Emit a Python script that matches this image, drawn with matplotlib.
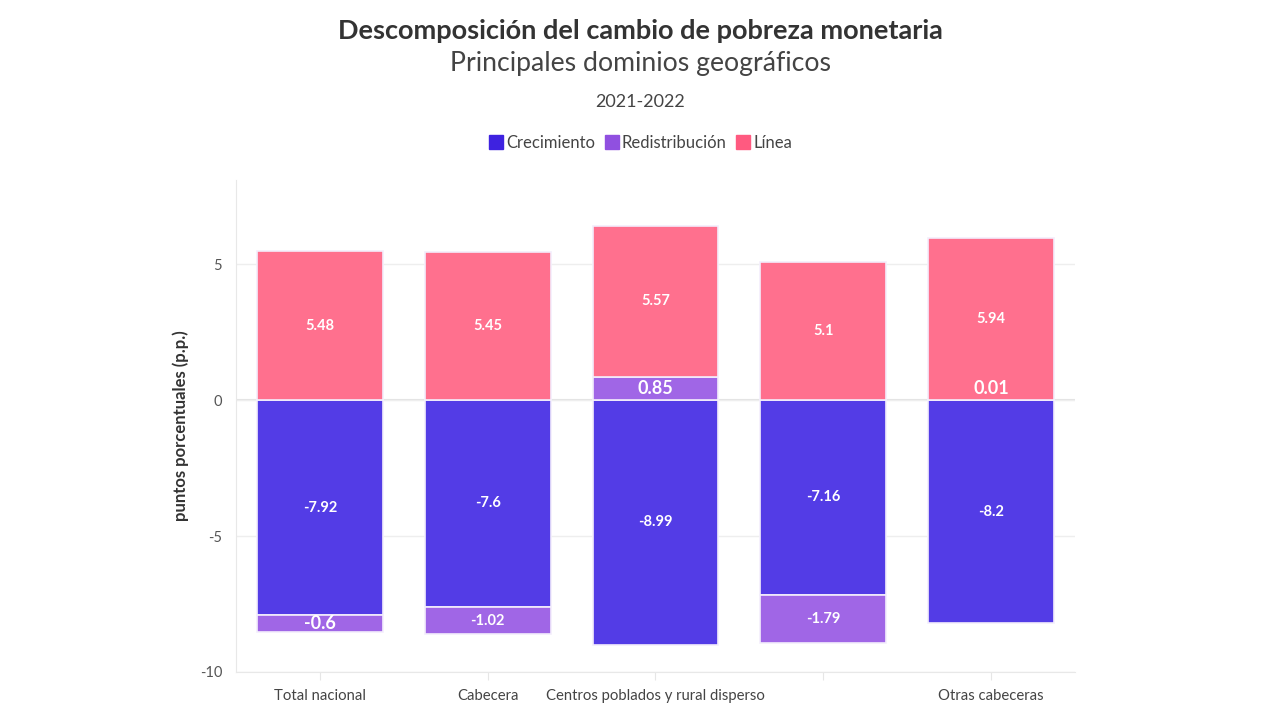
import matplotlib.pyplot as plt
import numpy as np
from matplotlib.lines import Line2D

plt.rcParams["font.family"] = ["Lato", "DejaVu Sans"]

# Data
categories = ["Total nacional", "Cabecera", "Centros poblados y rural disperso", "", "Otras cabeceras"]
series_names = ["Crecimiento", "Redistribución", "Línea"]
crecimiento = [-7.92, -7.6, -8.99, -7.16, -8.2]
redistribucion = [-0.6, -1.02, 0.85, -1.79, 0.01]
linea = [5.48, 5.45, 5.57, 5.1, 5.94]

bar_colors = ["#533ce6", "#a066e6", "#ff708e"]
legend_colors = ["#3e22e0", "#9050e0", "#ff5a80"]

fig = plt.figure(figsize=(12.8, 7.2), dpi=100, facecolor="white")
ax = fig.add_axes([0.1844, 0.0667, 0.6554, 0.6833])

x = np.arange(len(categories))
pos_base = np.zeros(len(categories))
neg_base = np.zeros(len(categories))

for name, vals, color in zip(series_names, [crecimiento, redistribucion, linea], bar_colors):
    vals = np.array(vals)
    bottoms = np.where(vals >= 0, pos_base, neg_base)
    ax.bar(x, vals, bottom=bottoms, width=0.75, color=color,
           edgecolor="#f3eefc", linewidth=1.2, zorder=3)
    for xi, v, b in zip(x, vals, bottoms):
        small = abs(v) < 1.0
        ty = b + v / 2
        if small and v > 0:
            # tiny segments: label sits just above the segment like plotly does
            ty = max(ty, b + 0.42)
        ax.text(xi, ty, f"{v:g}", ha="center", va="center",
                color="white", fontsize=13 if small else 10.5,
                fontweight="bold", zorder=4)
    pos_base = pos_base + np.where(vals >= 0, vals, 0)
    neg_base = neg_base + np.where(vals < 0, vals, 0)

ax.set_xlim(-0.5, 4.5)
ax.set_ylim(-10, 8.1)
ax.set_yticks([-10, -5, 0, 5])
ax.set_yticklabels(["-10", "-5", "0", "5"])
ax.set_xticks(x)
ax.set_xticklabels(categories)
ax.tick_params(axis="y", length=0, pad=10, labelsize=10.5, labelcolor="#555555")
ax.tick_params(axis="x", length=6, color="#e6e6e6", pad=6, labelsize=10.7, labelcolor="#444444")
ax.grid(axis="y", color="#eeeeee", linewidth=1, zorder=0)
ax.axhline(0, color="#e2e2e2", linewidth=1.5, zorder=1)
for side in ["top", "right"]:
    ax.spines[side].set_visible(False)
ax.spines["left"].set_color("#e8e8e8")
ax.spines["bottom"].set_color("#e8e8e8")
ax.set_ylabel("puntos porcentuales (p.p.)", fontsize=12, fontweight="bold",
              color="#333333", labelpad=8)

# Titles
fig.text(0.5, 0.957, "Descomposición del cambio de pobreza monetaria", ha="center", va="center",
         fontsize=19.5, fontweight="bold", color="#333333")
fig.text(0.5, 0.912, "Principales dominios geográficos", ha="center", va="center",
         fontsize=19.2, color="#444444")
fig.text(0.5, 0.858, "2021-2022", ha="center", va="center", fontsize=13, color="#444444")

handles = [Line2D([0], [0], marker="s", linestyle="none", markersize=10,
                  markerfacecolor=c, markeredgecolor=c) for c in legend_colors]
fig.legend(handles, series_names, loc="center", bbox_to_anchor=(0.5, 0.801), ncol=3,
           frameon=False, fontsize=12, handletextpad=0.1, columnspacing=0.5,
           handlelength=1.0, labelcolor="#444444")

fig.savefig("out.png", dpi=100, facecolor="white")
